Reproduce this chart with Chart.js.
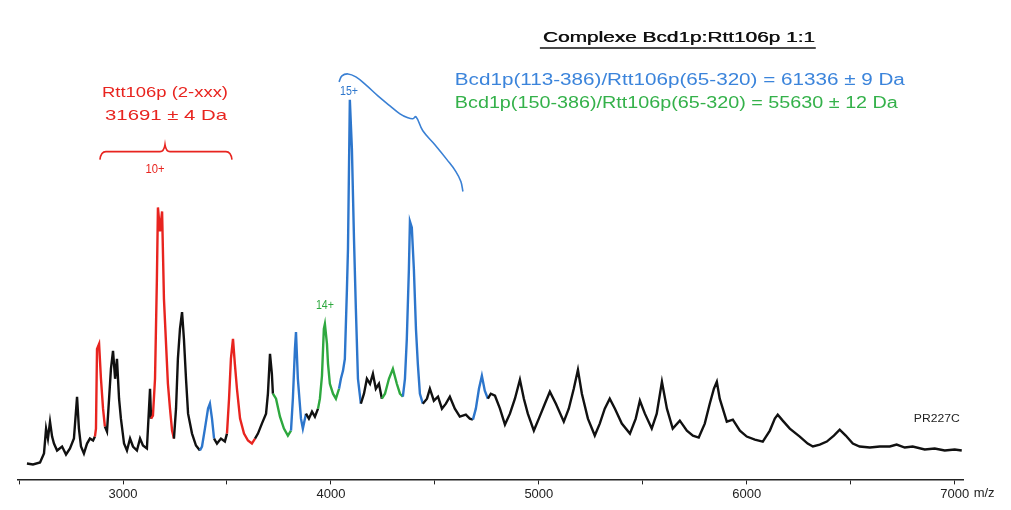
<!DOCTYPE html>
<html>
<head>
<meta charset="utf-8">
<script src="https://cdn.jsdelivr.net/npm/chart.js@4.4.1/dist/chart.umd.min.js"></script>
<style>
    html, body { margin: 0; padding: 0; background: #ffffff; }
    #wrap { width: 1011px; height: 510px; }
</style>
</head>
<body>
<div id="wrap"><canvas id="spectrum" width="1011" height="510"></canvas></div>
<script>
/* ===============================================
   NATIVE MS SPECTRUM - Bcd1p:Rtt106p complex
   =============================================== */

// m/z of every sampled point of the trace
const mz = [
    2538, 2567, 2601, 2620, 2630, 2639, 2649, 2659, 2668, 2683, 2707, 2726, 2745, 2764, 2779, 2788, 2798, 2812, 2827, 2841, 2856, 2865,
    2870, 2875, 2885, 2894, 2904, 2913,
    2923, 2933, 2942, 2952, 2962, 2971, 2981, 2990, 3005, 3019, 3034, 3048, 3067, 3082, 3096, 3115, 3130, 3135,
    3144, 3154, 3163, 3168, 3178, 3188, 3197, 3207, 3216, 3226, 3236, 3245,
    3255, 3264, 3274, 3284, 3293, 3303, 3313, 3332, 3351, 3370,
    3380, 3394, 3409, 3418, 3428, 3438,
    3452, 3471, 3490, 3500,
    3510, 3519, 3529, 3538, 3548, 3563, 3582, 3601, 3620, 3635,
    3649, 3668, 3688, 3697, 3707, 3716, 3721,
    3736, 3755, 3774, 3793, 3808,
    3817, 3827, 3832, 3841, 3856, 3865, 3880,
    3894, 3909, 3923, 3938,
    3947, 3957, 3966, 3971, 3981, 3986, 3995, 4010, 4024, 4039,
    4048, 4058, 4067, 4077, 4082, 4091, 4101, 4111, 4120, 4130, 4144,
    4159, 4173, 4188, 4202, 4216, 4231, 4245,
    4260, 4279, 4298, 4317, 4332, 4346,
    4356, 4365, 4375, 4380, 4389, 4399, 4409, 4418, 4428, 4442,
    4462, 4476, 4495, 4515, 4534, 4553, 4572, 4596, 4620, 4649, 4668, 4683,
    4697, 4712, 4726, 4740, 4755,
    4769, 4789, 4813, 4837, 4861, 4885, 4909, 4928, 4947, 4976, 5000, 5029, 5053, 5082, 5120, 5144, 5168, 5188, 5207, 5236,
    5269, 5293, 5317, 5341, 5366, 5399, 5438, 5466, 5486, 5510, 5543, 5567, 5592, 5616, 5644, 5678, 5712, 5741, 5769, 5798,
    5822, 5842, 5856, 5870, 5904, 5933, 5967, 6000, 6039, 6077, 6111, 6135, 6149, 6173, 6207, 6255, 6293, 6318, 6351, 6385,
    6419, 6447, 6476, 6510, 6543, 6592, 6640, 6688, 6721, 6760, 6798, 6856, 6904, 6952, 7000, 7034
];

// intensity (arbitrary units) matching mz[]
const intensity = [
    16, 15, 17, 26, 51, 41, 58, 43, 36, 29, 33, 25, 31, 41, 83, 51, 33, 26, 36, 41, 39, 43,
    51, 131, 136, 101, 71, 53,
    48, 81, 111, 129, 101, 121, 81, 61, 36, 29, 41, 33, 29, 41, 34, 31, 91, 61,
    64, 101, 201, 273, 249, 269, 181, 136, 96, 71, 49, 41,
    71, 121, 151, 168, 141, 101, 66, 46, 34, 29,
    33, 51, 71, 76, 61, 41,
    36, 41, 38, 46,
    81, 121, 141, 116, 91, 61, 46, 39, 36, 41,
    46, 56, 66, 86, 126, 106, 86,
    81, 63, 51, 44, 49,
    81, 131, 148, 101, 61, 51, 66,
    61, 68, 63, 71,
    81, 104, 151, 156, 136, 116, 96, 86, 81, 91,
    101, 109, 121, 191, 231, 381, 331, 241, 171, 101, 76,
    86, 101, 96, 106, 91, 96, 81,
    86, 101, 111, 96, 86, 83,
    101, 141, 211, 259, 253, 211, 151, 116, 86, 76,
    81, 91, 79, 83, 71, 76, 83, 71, 63, 65, 61, 60,
    71, 91, 104, 89, 81,
    86, 84, 71, 55, 66, 81, 100, 81, 66, 49, 61, 76, 88, 76, 58, 71, 91, 110, 86, 61,
    44, 56, 71, 81, 71, 56, 46, 61, 79, 66, 51, 66, 98, 71, 51, 59, 49, 44, 42, 56,
    76, 91, 98, 81, 58, 60, 49, 43, 40, 38, 49, 61, 65, 59, 51, 43, 36, 33, 35, 38,
    44, 50, 44, 36, 33, 32, 33, 33, 35, 32, 33, 30, 31, 29, 30, 29
];

// m/z windows of each assigned charge-state series
const rtt106Series = [[2870, 2913], [3144, 3245], [3510, 3635]];
const complexSeries = [[3380, 3438], [3817, 3880], [4048, 4144], [4356, 4442], [4697, 4755]];
const truncatedSeries = [[3736, 3808], [3947, 4039], [4260, 4346]];

// blue charge-state envelope drawn over the complex peaks
const envelopeMz = [4039, 4053, 4082, 4120, 4168, 4226, 4284, 4332, 4370, 4394, 4409, 4442, 4500, 4558, 4601, 4625, 4635];
const envelopeInt = [399, 405, 407, 404, 396, 385, 375, 367, 363, 362, 364, 350, 336, 321, 309, 299, 289];

// x-axis ticks (only thousands get a label)
const tickValues = [2500, 3000, 3500, 4000, 4500, 5000, 5500, 6000, 6500, 7000];

const RED = '#e8241f';
const BLUE = '#2d76cc';
const GREEN = '#2ea83f';
const BLACK = '#111111';
const FONT = "'Liberation Sans', Arial, sans-serif";

function inSeries(ranges, x) {
    return ranges.some(r => x >= r[0] && x <= r[1]);
}

function colourFor(x) {
    if (inSeries(rtt106Series, x)) return RED;
    if (inSeries(complexSeries, x)) return BLUE;
    if (inSeries(truncatedSeries, x)) return GREEN;
    return BLACK;
}

// Draws text horizontally stretched to a given width
function fittedText(ctx, text, x, y, width, size, colour, align) {
    ctx.save();
    ctx.font = `${size}px ${FONT}`;
    const w = ctx.measureText(text).width;
    const k = width / w;
    const left = align === 'center' ? x - width / 2 : x;
    ctx.translate(left, y);
    ctx.scale(k, 1);
    ctx.fillStyle = colour;
    ctx.textAlign = 'left';
    ctx.textBaseline = 'middle';
    ctx.fillText(text, 0, 0);
    ctx.restore();
}

const annotations = {
    id: 'annotations',
    afterDraw(chart) {
        const ctx = chart.ctx;
        const xs = chart.scales.x;
        const ys = chart.scales.y;
        const px = v => xs.getPixelForValue(v);
        const py = v => ys.getPixelForValue(v);

        // title, underlined
        fittedText(ctx, 'Complexe Bcd1p:Rtt106p 1:1', px(5019), py(443), 272, 15, BLACK, 'left');
        fittedText(ctx, 'Complexe Bcd1p:Rtt106p 1:1', px(5019) + 0.6, py(443), 272, 15, BLACK, 'left');
        ctx.save();
        ctx.strokeStyle = BLACK;
        ctx.lineWidth = 1.4;
        ctx.beginPath();
        ctx.moveTo(px(5005), py(433));
        ctx.lineTo(px(6332), py(433));
        ctx.stroke();
        ctx.restore();

        // mass results
        fittedText(ctx, 'Bcd1p(113-386)/Rtt106p(65-320) = 61336 \u00b1 9 Da', px(4596), py(400), 450, 16, '#3b84db', 'left');
        fittedText(ctx, 'Bcd1p(150-386)/Rtt106p(65-320) = 55630 \u00b1 12 Da', px(4596), py(377), 443, 16, '#34b14a', 'left');
        fittedText(ctx, 'Rtt106p (2-xxx)', px(3202), py(388), 126, 15, RED, 'center');
        fittedText(ctx, '31691 \u00b1 4 Da', px(3207), py(365), 122, 15, RED, 'center');

        // charge states
        fittedText(ctx, '10+', px(3154), py(311), 19, 12, RED, 'center');
        fittedText(ctx, '15+', px(4087), py(389), 18, 12, BLUE, 'center');
        fittedText(ctx, '14+', px(3971), py(174), 18, 12, GREEN, 'center');
        fittedText(ctx, 'PR227C', px(6914), py(60), 46, 10, '#222222', 'center');

        // red brace over the Rtt106p series
        const bl = px(2889), br = px(3524), bc = px(3202), by = py(329);
        ctx.save();
        ctx.strokeStyle = RED;
        ctx.lineWidth = 1.6;
        ctx.beginPath();
        ctx.moveTo(bl, by + 8);
        ctx.quadraticCurveTo(bl + 1, by, bl + 6, by);
        ctx.lineTo(bc - 5, by);
        ctx.quadraticCurveTo(bc - 1, by, bc, by - 7);
        ctx.quadraticCurveTo(bc + 1, by, bc + 5, by);
        ctx.lineTo(br - 6, by);
        ctx.quadraticCurveTo(br - 1, by, br, by + 8);
        ctx.stroke();
        ctx.restore();

        // axis unit after the last label
        ctx.save();
        ctx.font = `13px ${FONT}`;
        ctx.fillStyle = '#222222';
        ctx.textBaseline = 'middle';
        ctx.fillText('m/z', px(7000) + 19, 493);
        ctx.restore();
    }
};

const spectrumPoints = mz.map((x, i) => ({ x: x, y: intensity[i] }));
const envelopePoints = envelopeMz.map((x, i) => ({ x: x, y: envelopeInt[i] }));

new Chart(document.getElementById('spectrum'), {
    type: 'line',
    data: {
        datasets: [
            {
                data: spectrumPoints,
                borderColor: BLACK,
                borderWidth: 2.4,
                pointRadius: 0,
                tension: 0,
                segment: {
                    borderColor: c => colourFor(c.p1.parsed.x)
                }
            },
            {
                data: envelopePoints,
                borderColor: '#3a80d4',
                borderWidth: 1.6,
                pointRadius: 0,
                tension: 0.4
            }
        ]
    },
    options: {
        responsive: false,
        animation: false,
        devicePixelRatio: 1,
        layout: {
            padding: { left: 18, right: 48, top: 61, bottom: 6 }
        },
        plugins: {
            legend: { display: false },
            tooltip: { enabled: false }
        },
        scales: {
            x: {
                type: 'linear',
                min: 2495,
                max: 7040,
                afterBuildTicks: scale => {
                    scale.ticks = tickValues.map(v => ({ value: v }));
                },
                ticks: {
                    autoSkip: false,
                    maxRotation: 0,
                    padding: 2,
                    color: '#222222',
                    font: { family: FONT, size: 13 },
                    callback: v => (v % 1000 === 0 ? String(v) : '')
                },
                grid: {
                    display: true,
                    drawOnChartArea: false,
                    drawTicks: true,
                    tickLength: 5,
                    color: '#222222'
                },
                border: { display: true, color: '#222222', width: 1.5 }
            },
            y: {
                display: false,
                min: 0,
                max: 420
            }
        }
    },
    plugins: [annotations]
});
</script>
</body>
</html>
